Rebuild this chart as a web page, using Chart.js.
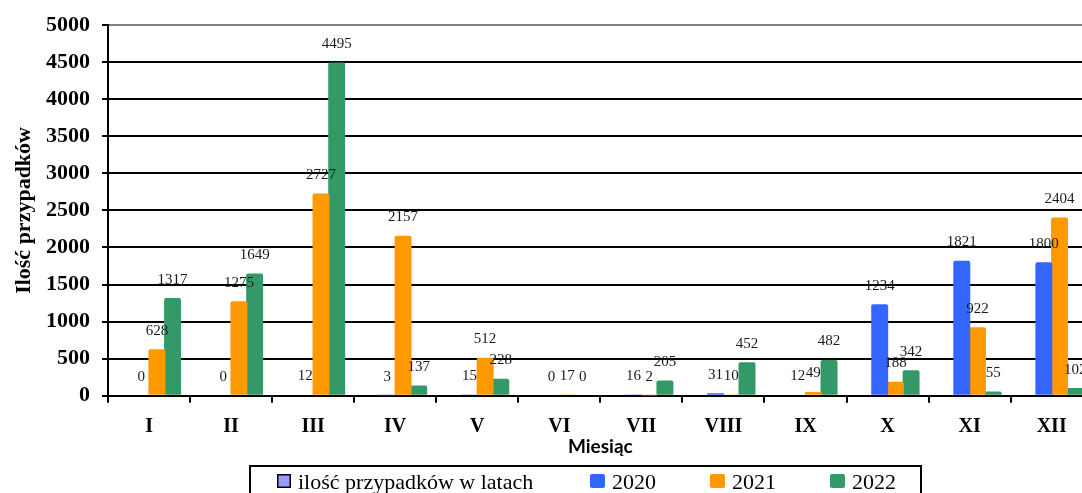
<!DOCTYPE html>
<html lang="pl">
<head>
<meta charset="utf-8">
<title>Ilość przypadków w latach 2020–2022</title>
<script src="https://cdn.jsdelivr.net/npm/chart.js@4/dist/chart.umd.min.js"></script>
<style>
  html, body { margin: 0; padding: 0; background: #fff; overflow: hidden; }
  #wrap { position: relative; width: 1082px; height: 493px; overflow: hidden; background: #fff; }
  canvas { display: block; }
</style>
</head>
<body>
<div id="wrap"><canvas id="chart" width="1100" height="500"></canvas></div>
<script>
// Months (Roman numerals) and monthly case counts per year
const months = ['I', 'II', 'III', 'IV', 'V', 'VI', 'VII', 'VIII', 'IX', 'X', 'XI', 'XII'];
const seriesNames = ['ilość przypadków w latach', '2020', '2021', '2022'];
const legendOnly = [null, null, null, null, null, null, null, null, null, null, null, null];
const cases2020 = [0, 0, 12, 3, 15, 0, 16, 31, 12, 1234, 1821, 1800];
const cases2021 = [628, 1275, 2727, 2157, 512, 17, 2, 10, 49, 188, 922, 2404];
const cases2022 = [1317, 1649, 4495, 137, 228, 0, 205, 452, 482, 342, 55, 102];
const yTickValues = [0, 500, 1000, 1500, 2000, 2500, 3000, 3500, 4000, 4500, 5000];
const yTickLabels = ['0', '500', '1000', '1500', '2000', '2500', '3000', '3500', '4000', '4500', '5000'];

const seriesColors = ['#9999FF', '#3366FF', '#FF9900', '#339966'];
const SERIF = '"Liberation Serif", "Times New Roman", serif';

// Value labels above each bar of the yearly series
const valueLabels = {
  id: 'valueLabels',
  afterDatasetsDraw(chart) {
    const ctx = chart.ctx;
    ctx.save();
    ctx.font = '15px ' + SERIF;
    ctx.fillStyle = '#1a1a1a';
    ctx.textAlign = 'center';
    ctx.textBaseline = 'middle';
    chart.data.datasets.forEach((ds, i) => {
      if (i === 0) return;
      const meta = chart.getDatasetMeta(i);
      meta.data.forEach((bar, j) => {
        const v = ds.data[j];
        if (v === null || v === undefined) return;
        ctx.fillText(String(v), bar.x, bar.y - 18.5);
      });
    });
    ctx.restore();
  }
};

// Framed legend below the axis title
const boxLegend = {
  id: 'boxLegend',
  afterDraw(chart) {
    const ctx = chart.ctx;
    const markerX = [277, 590, 710, 830];
    const textX = [298, 612, 732, 852];
    const top = 474, size = 14, baseline = 488.5;
    ctx.save();
    ctx.lineWidth = 2;
    ctx.strokeStyle = '#000';
    ctx.strokeRect(250, 466, 671, 60);
    ctx.font = '22px ' + SERIF;
    ctx.textBaseline = 'alphabetic';
    ctx.textAlign = 'left';
    chart.data.datasets.forEach((ds, i) => {
      ctx.fillStyle = ds.backgroundColor;
      if (i === 0) {
        ctx.fillRect(markerX[i], top, size, size);
        ctx.lineWidth = 1.5;
        ctx.strokeStyle = '#000';
        ctx.strokeRect(markerX[i] + 0.75, top + 0.75, size - 1.5, size - 1.5);
      } else {
        ctx.beginPath();
        ctx.roundRect(markerX[i], top, size + 1, size, 2);
        ctx.fill();
      }
      ctx.fillStyle = '#000';
      ctx.fillText(ds.label, textX[i], baseline);
    });
    ctx.restore();
  }
};

new Chart(document.getElementById('chart'), {
  type: 'bar',
  data: {
    labels: months,
    datasets: [
      { label: seriesNames[0], data: legendOnly, backgroundColor: seriesColors[0] },
      { label: seriesNames[1], data: cases2020, backgroundColor: seriesColors[1] },
      { label: seriesNames[2], data: cases2021, backgroundColor: seriesColors[2] },
      { label: seriesNames[3], data: cases2022, backgroundColor: seriesColors[3] }
    ]
  },
  options: {
    responsive: false,
    animation: false,
    devicePixelRatio: 1,
    layout: { padding: { top: 24, right: 7.3, bottom: 0, left: 0 } },
    datasets: {
      bar: { categoryPercentage: 0.765, barPercentage: 1.08, borderRadius: 2 }
    },
    plugins: {
      legend: { display: false },
      tooltip: { enabled: false }
    },
    scales: {
      x: {
        grid: { offset: true, drawOnChartArea: false, drawTicks: true, tickLength: 7, color: '#000', lineWidth: 2 },
        border: { display: true, color: '#000', width: 2 },
        ticks: { font: { family: SERIF, size: 20, weight: 'bold' }, color: '#000', padding: 12, maxRotation: 0, autoSkip: false },
        title: {
          display: true, text: 'Miesiąc', color: '#000',
          font: { family: 'Lato, "Open Sans", sans-serif', size: 19, weight: 'bold' },
          padding: { top: 0, bottom: 42 }
        },
        afterFit(scale) { scale.height = 104.33; }
      },
      y: {
        min: 0,
        max: 5000,
        afterBuildTicks(scale) { scale.ticks = yTickValues.map(v => ({ value: v })); },
        grid: {
          color: c => (c.tick && c.tick.value === 5000 ? '#808080' : '#000'),
          tickColor: '#000',
          lineWidth: 2,
          tickLength: 6
        },
        border: { display: true, color: '#000', width: 2 },
        ticks: {
          font: { family: SERIF, size: 22, weight: 'bold' }, color: '#000', padding: 12,
          callback: (value, index) => yTickLabels[index]
        },
        title: {
          display: true, text: 'Ilość przypadków', color: '#000',
          font: { family: SERIF, size: 22, weight: 'bold' },
          padding: { top: 11, bottom: 0 }
        },
        afterFit(scale) { scale.width = 108; }
      }
    }
  },
  plugins: [valueLabels, boxLegend]
});
</script>
</body>
</html>
